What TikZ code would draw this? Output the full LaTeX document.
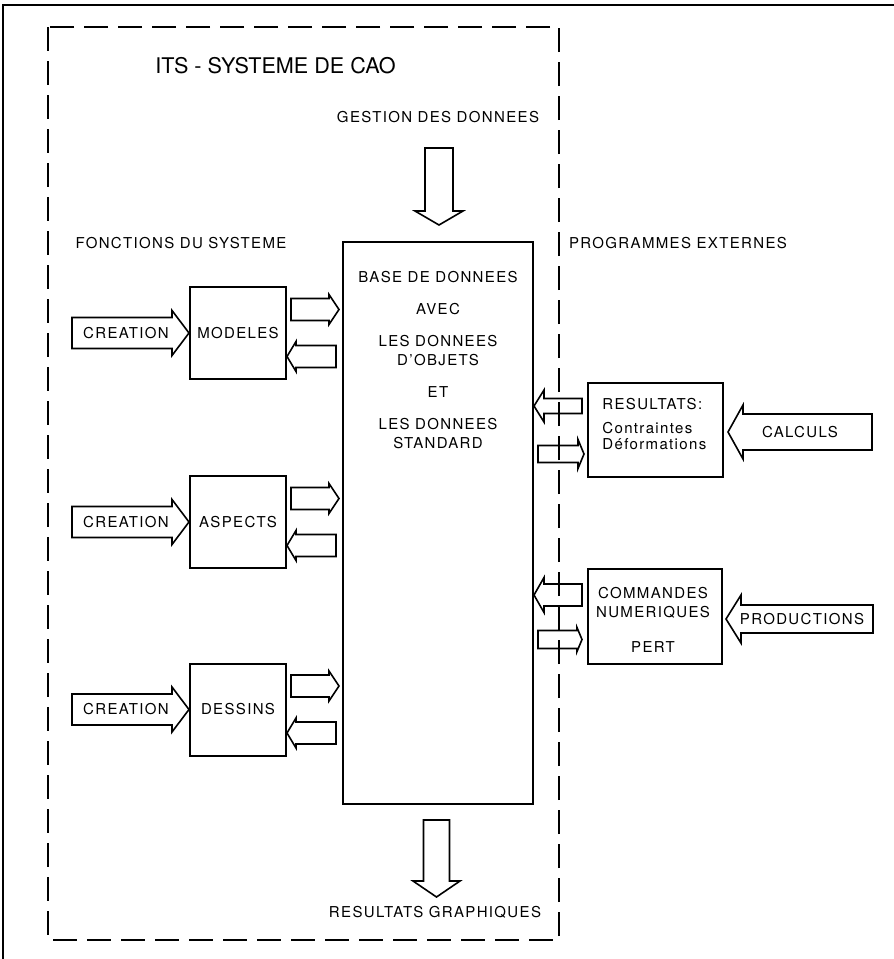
\documentclass[tikz,border=0pt]{standalone}
\usepackage{fontspec}
\setmainfont{TeX Gyre Heros}[LetterSpace=9]
\newfontfamily\titlefont{TeX Gyre Heros}
\usetikzlibrary{calc}

\tikzset{
    txt/.style={font=\fontsize{7.5}{9.5}\selectfont, inner sep=0pt},
    box/.style={draw, line width=1pt, txt},
    hollow/.style={draw, line width=0.8pt, line join=miter},
    frame/.style={line width=1pt, dash pattern=on 12pt off 5pt}
}

% hollow block arrow: tail, tip, shaft half width, head half width, head length (pt)
\newcommand{\blockarrow}[5]{%
    \draw[hollow] let \p1=(#1), \p2=(#2),
        \n1={atan2(\y2-\y1,\x2-\x1)}, \n2={veclen(\x2-\x1,\y2-\y1)-#5} in
        ($(\p1)+(\n1+90:#3 pt)$) -- ($(\p1)+(\n1:\n2)+(\n1+90:#3 pt)$)
        -- ($(\p1)+(\n1:\n2)+(\n1+90:#4 pt)$) -- (\p2)
        -- ($(\p1)+(\n1:\n2)+(\n1-90:#4 pt)$) -- ($(\p1)+(\n1:\n2)+(\n1-90:#3 pt)$)
        -- ($(\p1)+(\n1-90:#3 pt)$) -- cycle;
}

\begin{document}
\begin{tikzpicture}[x=0.5pt, y=-0.5pt]
    \useasboundingbox (0,0) rectangle (894,959);

    % Page edge
    \draw[line width=0.8pt] (3,959) -- (3,5) -- (894,5);

    % System boundary
    \draw[frame] (48,27) rectangle (559,940);
    \node[inner sep=0pt, anchor=west, font=\titlefont\fontsize{10.8}{13}\selectfont] (title) at (155,66) {ITS - SYSTEME DE CAO};

    % Headings
    \node[txt] (gestion) at (438,117) {GESTION DES DONNEES};
    \node[txt] (fonctions) at (181,243) {FONCTIONS DU SYSTEME};
    \node[txt] (programmes) at (678,243) {PROGRAMMES EXTERNES};
    \node[txt] (graphiques) at (435,912) {RESULTATS GRAPHIQUES};

    % Data base
    \node[box, minimum width=95pt, minimum height=281pt] (db) at (438,523) {};
    \node[txt, align=center, anchor=north] (dbtext) at (438,271)
        {BASE DE DONNEES\\[6.5pt] AVEC\\[6.5pt] LES DONNEES\\ D'OBJETS\\[6.5pt] ET\\[6.5pt] LES DONNEES\\ STANDARD};

    % Data flow in and out
    \coordinate (gtail) at (439,148);
    \blockarrow{gtail}{$(db.north)+(1,-16)$}{7}{12}{7}
    \coordinate (rtip) at (436.5,897);
    \blockarrow{$(db.south)+(-1.5,15)$}{rtip}{6.5}{11.75}{8}

    % System functions
    \foreach \name/\label/\y in {modeles/MODELES/333, aspects/ASPECTS/522, dessins/DESSINS/709.5}
    {
        \node[box, minimum width=48pt, minimum height=46pt] (\name) at (238,\y) {\label};
        \node[txt] (crea-\name) at (126,\y) {CREATION};
        \blockarrow{$(crea-\name.center)+(-54,0)$}{\name.west}{7.75}{11.25}{8.5}
        \blockarrow{$(\name.east)+(4,-23.5)$}{$(db.west |- \name.east)+(-3,-23.5)$}{5.5}{7.5}{5}
        \blockarrow{$(db.west |- \name.east)+(-6,23.5)$}{$(\name.east)+(0,23.5)$}{5.5}{7.5}{4.5}
    }

    % External programs
    \node[box, minimum width=67.5pt, minimum height=47pt] (resultats) at (655.5,430) {};
    \node[txt, align=left, anchor=north west] (restext) at (602,398)
        {RESULTATS:\\[2.5pt] Contraintes\\[-1.5pt] Déformations};
    \node[box, minimum width=67pt, minimum height=47.5pt] (commandes) at (655,616.5) {};
    \node[txt, align=center, anchor=north] (comtext) at (653,587)
        {COMMANDES\\ NUMERIQUES\\[8pt] PERT};

    \blockarrow{$(resultats.west)+(-5,-24)$}{$(db.east |- resultats.west)+(0,-24)$}{3.75}{8}{5}
    \blockarrow{$(db.east |- resultats.west)+(4,24)$}{$(resultats.west)+(-3,24)$}{4.25}{7.25}{3}
    \blockarrow{$(commandes.west)+(-5,-21.5)$}{$(db.east |- commandes.west)+(0,-21.5)$}{5.5}{8.75}{5}
    \blockarrow{$(db.east |- commandes.west)+(4,23)$}{$(commandes.west)+(-5,23)$}{4.5}{6}{2.5}

    \node[txt] (calculs) at (800,432) {CALCULS};
    \blockarrow{$(calculs.center)+(72,0)$}{$(resultats.east |- calculs.center)+(4,0)$}{9}{13.5}{7.5}
    \node[txt] (productions) at (802,619) {PRODUCTIONS};
    \blockarrow{$(productions.center)+(71,0)$}{$(commandes.east |- productions.center)+(3,0)$}{7}{12}{7.5}
\end{tikzpicture}
\end{document}
